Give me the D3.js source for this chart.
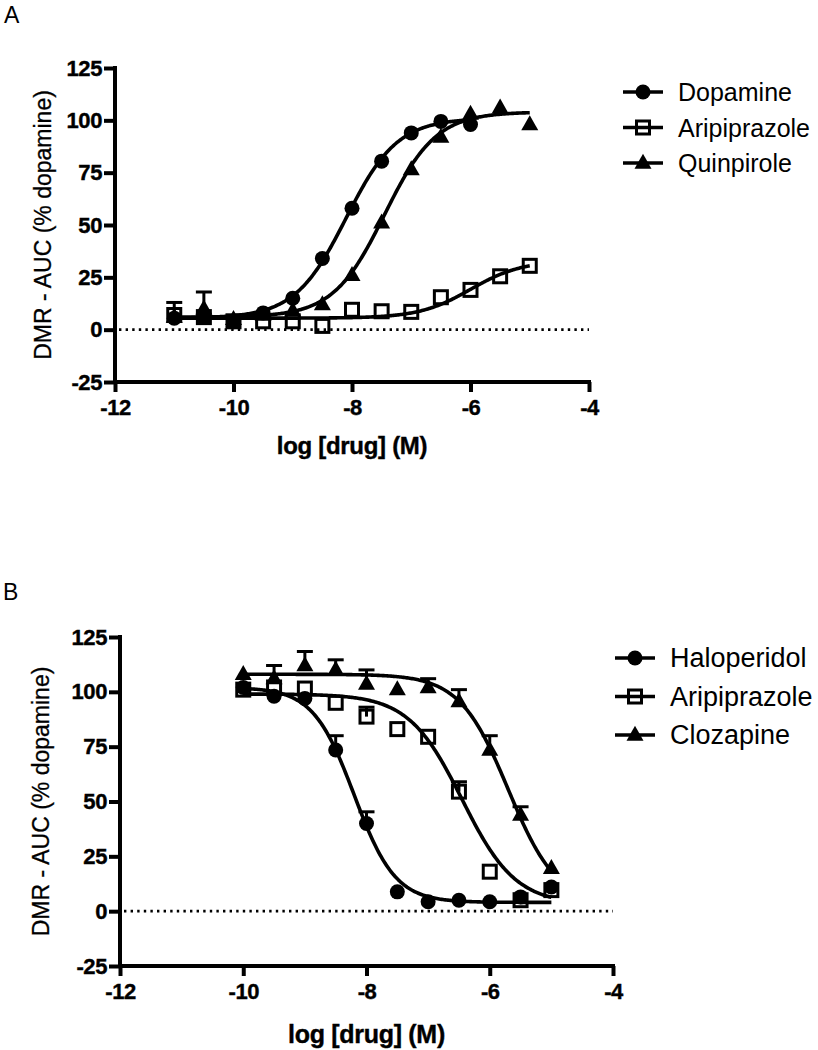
<!DOCTYPE html>
<html><head><meta charset="utf-8">
<script src="https://cdn.jsdelivr.net/npm/d3@7"></script>
<style>
body{margin:0;background:#fff}
svg{display:block}
text{font-family:"Liberation Sans",Arial,sans-serif;fill:#000}
</style>
</head><body><svg id="c" width="818" height="1050"></svg>
<script>
// ---------- shared axis values ----------
const xTickValues = [-12, -10, -8, -6, -4];
const yTickValues = [-25, 0, 25, 50, 75, 100, 125];
const xTitle = "log [drug] (M)";
const yTitle = "DMR - AUC (% dopamine)";

// ---------- Panel A (agonists) ----------
const concA = [-11, -10.5, -10, -9.5, -9, -8.5, -8, -7.5, -7, -6.5, -6, -5.5, -5];
const namesA = ["Dopamine", "Aripiprazole", "Quinpirole"];
const dopamineA    = [5.5, 6, 3.8, 8, 15, 34, 58, 80.5, 94, 99.5, 98];
const dopamineAerr = [0, 0, 0, 0, 0, 0, 0, 0, 0, 0, 0];
const aripA        = [7, 6, 4, 4, 4, 1.8, 9.5, 8.8, 8.5, 15.5, 19, 25.5, 30.5];
const aripAerr     = [6, 0, 0, 0, 0, 0, 0, 0, 0, 0, 0, 0, 0];
const quinA        = [6, 10, 5, 7, 9, 12, 26, 51, 76.5, 92, 103, 106, 98];
const quinAerr     = [0, 8, 0, 0, 0, 0, 0, 0, 0, 0, 0, 0, 0];
// fit: [bottom, top, logEC50, hill, xFrom, xTo]
const dopamineFit = [5.5, 101, -8.1, 1.0, -11, -6];
const aripAFit    = [5.5, 33, -6.0, 1.0, -11, -5];
const quinFit     = [6, 104, -7.45, 1.0, -11, -5];

// ---------- Panel B (antagonists) ----------
const concB = [-10, -9.5, -9, -8.5, -8, -7.5, -7, -6.5, -6, -5.5, -5];
const namesB = ["Haloperidol", "Aripiprazole", "Clozapine"];
const haloB     = [102, 98, 97, 73.5, 40, 8.8, 4.3, 5, 4.3, 6.5, 11];
const haloBerr  = [0, 0, 0, 6.5, 5.3, 0, 0, 0, 0, 0, 0];
const aripB     = [101, 102, 101.5, 95, 88.7, 83, 79.5, 54.5, 18, 5, 9.6];
const aripBerr  = [0, 0, 0, 0, 4.3, 0, 0, 4.5, 0, 0, 0];
const cloB      = [108, 106, 112, 110, 103.6, 101, 102, 95.6, 73.5, 43.8, 19.6];
const cloBerr   = [0, 6, 6.4, 4.6, 6.4, 0, 4, 5.4, 6.5, 3.8, 0];
const haloFit  = [4, 102, -8.2, -1.3, -10, -5];
const aripBFit = [3, 99, -6.45, -1.0, -10, -5];
const cloFit   = [3, 108, -5.7, -1.1, -10, -5];

const svg = d3.select("#c");
const FONT = '"Liberation Sans",Arial,sans-serif';

function fourPL(p, x) {
  const [b, t, ec, h] = p;
  return b + (t - b) / (1 + Math.pow(10, (ec - x) * h));
}

function marker(g, shape, cx, cy) {
  if (shape === "circle") {
    g.append("circle").attr("cx", cx).attr("cy", cy).attr("r", 7.5).attr("fill", "#000");
  } else if (shape === "square") {
    g.append("rect").attr("x", cx - 6.5).attr("y", cy - 6.5).attr("width", 13).attr("height", 13)
      .attr("fill", "none").attr("stroke", "#000").attr("stroke-width", 3);
  } else {
    const w = 17, h = 15;
    g.append("path").attr("d", `M${cx},${cy - h * 0.62}L${cx + w / 2},${cy + h * 0.38}L${cx - w / 2},${cy + h * 0.38}Z`)
      .attr("fill", "#000");
  }
}

function panel(cfg) {
  const x = d3.scaleLinear().domain([-12, -4]).range([cfg.x0, cfg.x1]);
  const y = d3.scaleLinear().domain([-25, 125]).range([cfg.y0, cfg.y1]);
  const g = svg.append("g");

  // zero dotted line
  g.append("line").attr("x1", x(-12) + 4).attr("x2", x(-4)).attr("y1", y(0)).attr("y2", y(0))
    .attr("stroke", "#000").attr("stroke-width", 2.6).attr("stroke-dasharray", "2.4,4.2");

  // axes
  const fmt = d => String(d);
  const yAxis = d3.axisLeft(y).tickValues(yTickValues).tickSize(11).tickSizeOuter(0).tickPadding(2)
    .tickFormat(fmt);
  const ya = g.append("g").attr("transform", `translate(${x(-12)},0)`).call(yAxis);
  const xAxis = d3.axisBottom(x).tickValues(xTickValues).tickSize(10).tickSizeOuter(0).tickPadding(7)
    .tickFormat(fmt);
  const xa = g.append("g").attr("transform", `translate(0,${y(-25)})`).call(xAxis);
  [ya, xa].forEach(a => {
    a.select(".domain").attr("stroke", "#000").attr("stroke-width", 4);
    a.selectAll(".tick line").attr("stroke", "#000").attr("stroke-width", 4);
    a.selectAll(".tick text").attr("font-family", FONT).attr("font-weight", "bold")
      .attr("font-size", cfg.tickFont).attr("letter-spacing", "-0.4").attr("fill", "#000")
      .attr("stroke", "#000").attr("stroke-width", 0.4);
  });
  ya.select(".domain").attr("d", `M0,${y(125) - 2}V${y(-25) + 2}`);
  xa.select(".domain").attr("d", `M${x(-12) - 2},0H${x(-4) + 2}`);
  xa.selectAll(".tick text").attr("dy", "0.74em");

  // axis titles
  g.append("text").attr("x", (cfg.x0 + cfg.x1) / 2).attr("y", cfg.xTitleY).attr("text-anchor", "middle")
    .attr("font-weight", "bold").attr("font-size", cfg.xTitleFont).attr("letter-spacing", "-0.3")
    .attr("stroke", "#000").attr("stroke-width", 0.4).text(xTitle);
  g.append("text").attr("transform", `translate(${cfg.yTitleX},${(cfg.y0 + cfg.y1) / 2}) rotate(-90)`)
    .attr("text-anchor", "middle").attr("dominant-baseline", "central")
    .attr("font-size", cfg.yTitleFont).attr("stroke", "#000").attr("stroke-width", 0.3).text(yTitle);

  // panel letter
  g.append("text").attr("x", cfg.letterX).attr("y", cfg.letterY).attr("font-size", 23).text(cfg.letter);

  const line = d3.line().x(d => x(d[0])).y(d => y(d[1])).curve(d3.curveLinear);

  // curves
  cfg.series.forEach(s => {
    const [, , , , a, b] = s.fit;
    const pts = d3.range(a, b + 1e-9, 0.02).map(v => [v, fourPL(s.fit, v)]);
    g.append("path").attr("d", line(pts)).attr("fill", "none").attr("stroke", "#000")
      .attr("stroke-width", 3.6).attr("stroke-linejoin", "round");
  });

  // error bars + markers
  cfg.series.forEach(s => {
    const mg = g.append("g");
    s.values.forEach((v, i) => {
      const e = s.err[i];
      if (e > 0) {
        const cx = x(s.conc[i]);
        mg.append("line").attr("x1", cx).attr("x2", cx).attr("y1", y(v)).attr("y2", y(v + e))
          .attr("stroke", "#000").attr("stroke-width", 3);
        mg.append("line").attr("x1", cx - 8).attr("x2", cx + 8).attr("y1", y(v + e)).attr("y2", y(v + e))
          .attr("stroke", "#000").attr("stroke-width", 3);
      }
    });
    s.values.forEach((v, i) => marker(mg, s.shape, x(s.conc[i]), y(v)));
  });

  // legend
  const lg = g.append("g");
  cfg.series.forEach((s, i) => {
    const cy = cfg.legY + i * cfg.legStep;
    lg.append("line").attr("x1", cfg.legX).attr("x2", cfg.legX + 40).attr("y1", cy).attr("y2", cy)
      .attr("stroke", "#000").attr("stroke-width", 3.6);
    marker(lg, s.shape, cfg.legX + 20, cy);
    lg.append("text").attr("x", cfg.legX + 55).attr("y", cy).attr("dominant-baseline", "central")
      .attr("font-size", cfg.legFont).text(s.name);
  });
}

panel({
  letter: "A", letterX: 4, letterY: 23,
  x0: 115, x1: 589, y0: 382, y1: 68,
  tickFont: 22, xTitleFont: 24, xTitleY: 454, yTitleX: 43, yTitleFont: 23,
  legX: 623, legY: 92, legStep: 35.5, legFont: 25,
  series: [
    {name: namesA[1], shape: "square", conc: concA, values: aripA, err: aripAerr, fit: aripAFit},
    {name: namesA[2], shape: "triangle", conc: concA, values: quinA, err: quinAerr, fit: quinFit},
    {name: namesA[0], shape: "circle", conc: concA.slice(0, dopamineA.length), values: dopamineA, err: dopamineAerr, fit: dopamineFit}
  ].sort((a, b) => namesA.indexOf(a.name) - namesA.indexOf(b.name))
});

panel({
  letter: "B", letterX: 3, letterY: 600,
  x0: 120, x1: 613, y0: 966, y1: 637,
  tickFont: 22, xTitleFont: 25, xTitleY: 1043, yTitleX: 41, yTitleFont: 23,
  legX: 615, legY: 658, legStep: 38.5, legFont: 27,
  series: [
    {name: namesB[0], shape: "circle", conc: concB, values: haloB, err: haloBerr, fit: haloFit},
    {name: namesB[1], shape: "square", conc: concB, values: aripB, err: aripBerr, fit: aripBFit},
    {name: namesB[2], shape: "triangle", conc: concB, values: cloB, err: cloBerr, fit: cloFit}
  ]
});
</script>
</body></html>
